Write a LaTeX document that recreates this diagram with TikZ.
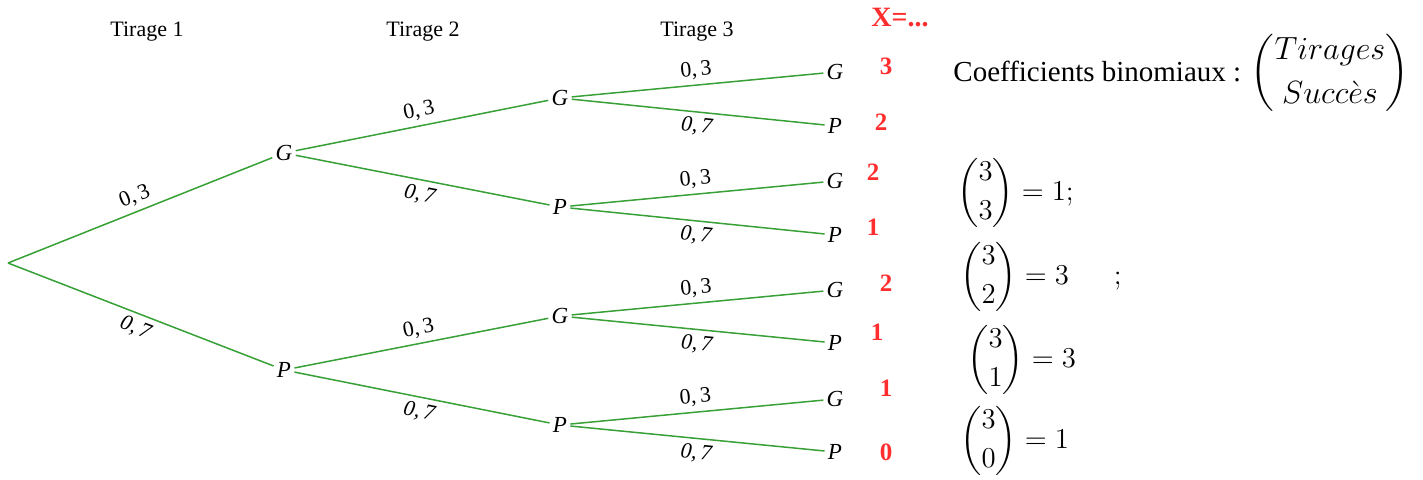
\documentclass[tikz,border=0pt]{standalone}
\usepackage[no-math]{fontspec}
\setmainfont{Liberation Serif}
\usepackage{amsmath}
\usepackage{graphicx}
\definecolor{treegreen}{RGB}{55,160,55}
\definecolor{xred}{RGB}{255,45,45}
\begin{document}
\begin{tikzpicture}[x=0.5pt,y=-0.5pt,
  tn/.style={font=\fontsize{11.5}{13}\selectfont\itshape, inner sep=1.5pt},
  br/.style={draw=treegreen, line width=0.75pt},
  pr/.style={font=\fontsize{11}{13}\selectfont, sloped, midway, inner sep=2.5pt},
  hd/.style={font=\fontsize{11}{13}\selectfont},
  xv/.style={font=\fontsize{12.5}{14}\selectfont\bfseries, text=xred},
  rt/.style={font=\fontsize{14.5}{17}\selectfont, anchor=west, inner sep=0pt}]
\useasboundingbox (0,0) rectangle (1423,479);

% headers
\node[hd] (h1) at (147,32) {Tirage 1};
\node[hd] (h2) at (423,32) {Tirage 2};
\node[hd] (h3) at (697,32) {Tirage 3};
\node[xv, font=\fontsize{14}{16}\selectfont\bfseries] (xh) at (900,18) {X=...};

% tree nodes
\coordinate (r) at (8,263);
\node[tn] (g1) at (284,153) {G};
\node[tn] (p1) at (284,370) {P};
\node[tn] (gg) at (560,98) {G};
\node[tn] (gp) at (560,207) {P};
\node[tn] (pg) at (560,316) {G};
\node[tn] (pp) at (560,425) {P};
\node[tn] (ggg) at (835,72) {G};
\node[tn] (ggp) at (835,126) {P};
\node[tn] (gpg) at (835,181) {G};
\node[tn] (gpp) at (835,235) {P};
\node[tn] (pgg) at (835,290) {G};
\node[tn] (pgp) at (835,343) {P};
\node[tn] (ppg) at (835,399) {G};
\node[tn] (ppp) at (835,452) {P};

% branches
\draw[br] (r) -- node[pr,above]{0,\,3} (g1);
\draw[br] (r) -- node[pr,below]{\itshape 0,\,7} (p1);
\draw[br] (g1) -- node[pr,above]{0,\,3} (gg);
\draw[br] (g1) -- node[pr,below]{\itshape 0,\,7} (gp);
\draw[br] (p1) -- node[pr,above]{0,\,3} (pg);
\draw[br] (p1) -- node[pr,below]{\itshape 0,\,7} (pp);
\draw[br] (gg) -- node[pr,above]{0,\,3} (ggg);
\draw[br] (gg) -- node[pr,below]{\itshape 0,\,7} (ggp);
\draw[br] (gp) -- node[pr,above]{0,\,3} (gpg);
\draw[br] (gp) -- node[pr,below]{\itshape 0,\,7} (gpp);
\draw[br] (pg) -- node[pr,above]{0,\,3} (pgg);
\draw[br] (pg) -- node[pr,below]{\itshape 0,\,7} (pgp);
\draw[br] (pp) -- node[pr,above]{0,\,3} (ppg);
\draw[br] (pp) -- node[pr,below]{\itshape 0,\,7} (ppp);

% values of X
\node[xv] (x1) at (886,66) {3};
\node[xv] (x2) at (881,122) {2};
\node[xv] (x3) at (873,172) {2};
\node[xv] (x4) at (873,227) {1};
\node[xv] (x5) at (886,283) {2};
\node[xv] (x6) at (877,332) {1};
\node[xv] (x7) at (886,388) {1};
\node[xv] (x8) at (886,452) {0};

% binomial coefficients
\node[rt] (cb) at (953,73) {Coefficients binomiaux : \scalebox{0.93}{\fontsize{17.28}{20}\selectfont$\displaystyle\binom{Tirages}{Succ\grave{e}s}$}};
\node[rt] (b3) at (957,193) {$\displaystyle\binom{3}{3}=1;$};
\node[rt] (b2) at (960,277) {$\displaystyle\binom{3}{2}=3\quad\;\;;$};
\node[rt] (b1) at (967,360) {$\displaystyle\binom{3}{1}=3$};
\node[rt] (b0) at (960,441) {$\displaystyle\binom{3}{0}=1$};
\end{tikzpicture}
\end{document}
